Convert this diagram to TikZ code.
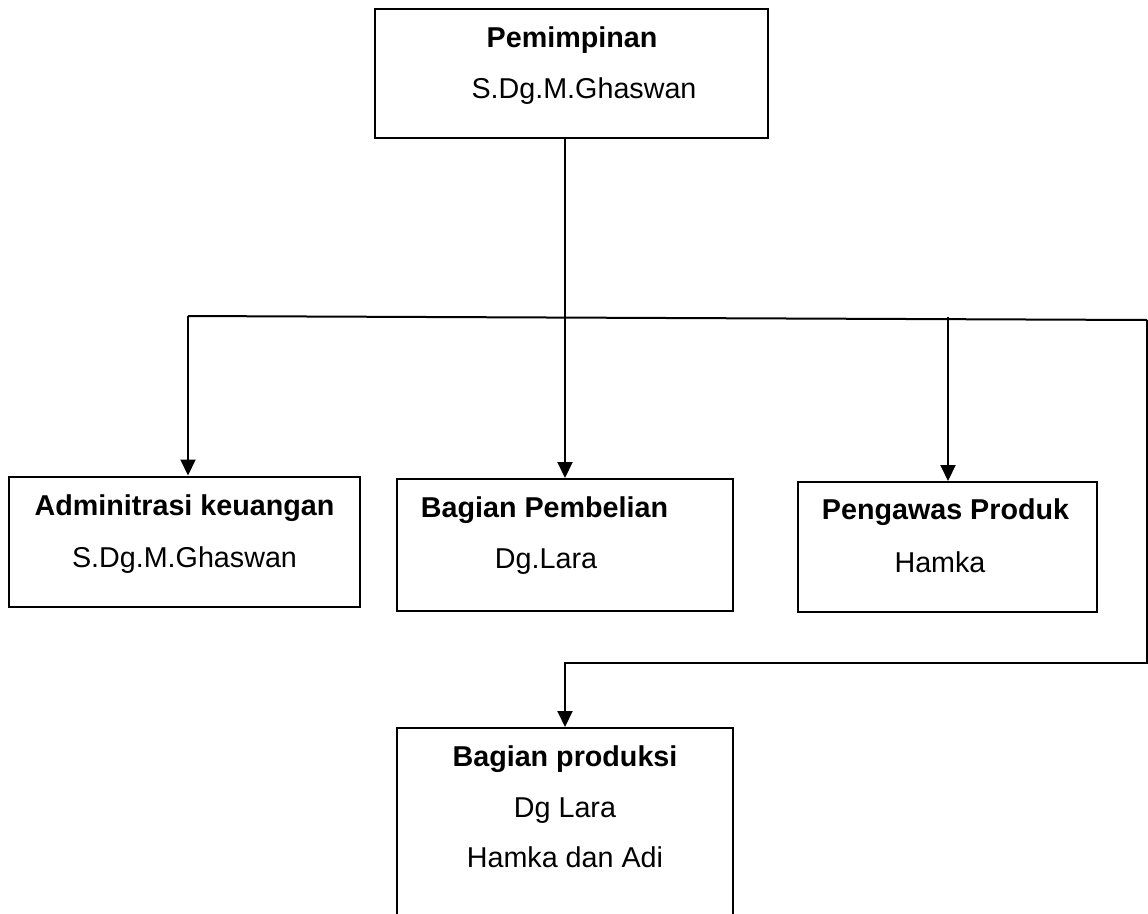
\documentclass[tikz,border=0pt]{standalone}
\usepackage{fontspec}
\setmainfont{Liberation Sans}
\usetikzlibrary{arrows.meta}
\usetikzlibrary{calc}

\begin{document}
\begin{tikzpicture}[x=1pt,y=-1pt,line width=2pt,>={Triangle[width=15pt,length=16pt]}]
	\tikzstyle{box}=[draw, rectangle, inner sep=0pt]
	\tikzstyle{isi}=[font=\fontsize{28.7}{34}\selectfont, anchor=base, inner sep=0pt]
	\tikzstyle{judul}=[isi, font=\fontsize{28.7}{34}\selectfont\bfseries]
	\useasboundingbox (0,0) rectangle (1148,913);
	% kotak
	\node[box, minimum width=393pt, minimum height=129pt] (pimpinan) at (571.5,73) {};
	\node[box, minimum width=351pt, minimum height=130pt] (admin) at (184.5,541.5) {};
	\node[box, minimum width=336pt, minimum height=132pt] (beli) at (565,545) {};
	\node[box, minimum width=299pt, minimum height=130pt] (awas) at (947.5,547) {};
	\node[box, minimum width=336pt, minimum height=272pt] (produksi) at (565,864) {};
	% teks
	\node[judul] (tPimpinan) at (572,47) {Pemimpinan};
	\node[isi] (nPimpinan) at (584,98) {S.Dg.M.Ghaswan};
	\node[judul] (tAdmin) at (184.5,515) {Adminitrasi keuangan};
	\node[isi] (nAdmin) at (184.5,567) {S.Dg.M.Ghaswan};
	\node[judul] (tBeli) at (544.5,517) {Bagian Pembelian};
	\node[isi] (nBeli) at (546,568) {Dg.Lara};
	\node[judul] (tAwas) at (945.5,519) {Pengawas Produk};
	\node[isi] (nAwas) at (940,572) {Hamka};
	\node[judul] (tProduksi) at (565,766) {Bagian produksi};
	\node[isi] (nProduksi1) at (565,817) {Dg Lara};
	\node[isi] (nProduksi2) at (565,867) {Hamka dan Adi};
	% garis
	\coordinate (kiri) at (188,316);
	\coordinate (kanan) at (1147,320);
	\coordinate (cabang) at (948,317);
	\coordinate (sudut) at (1147,663);
	\draw (kiri) -- (kanan);
	\draw[->] (pimpinan.south -| beli.north) -- (beli.north);
	\draw[->] (kiri) -- (kiri |- admin.north);
	\draw[->] (cabang) -- (cabang |- awas.north);
	\draw[->] (kanan) -- (sudut) -| (produksi.north);
\end{tikzpicture}
\end{document}
